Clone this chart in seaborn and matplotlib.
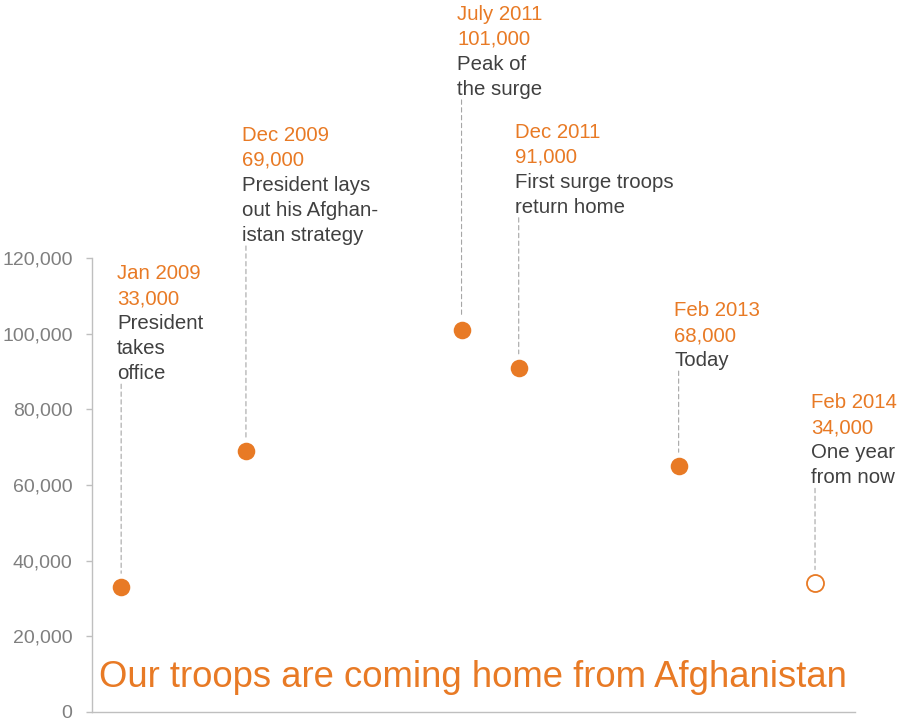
import matplotlib
matplotlib.use("Agg")
import matplotlib.pyplot as plt
import matplotlib.ticker as mticker
import pandas as pd
import seaborn as sns

# data
dates = ['2009-01-15', '2009-12-15', '2011-07-15', '2011-12-15', '2013-02-15', '2014-02-15']
date_labels = ['Jan 2009', 'Dec 2009', 'July 2011', 'Dec 2011', 'Feb 2013', 'Feb 2014']
troops = [33000, 69000, 101000, 91000, 65000, 34000]
troop_labels = ['33,000', '69,000', '101,000', '91,000', '68,000', '34,000']
events = [['President', 'takes', 'office'],
          ['President lays', 'out his Afghan-', 'istan strategy'],
          ['Peak of', 'the surge'],
          ['First surge troops', 'return home'],
          ['Today'],
          ['One year', 'from now']]
projected = [False, False, False, False, False, True]
yticks = [0, 20000, 40000, 60000, 80000, 100000, 120000]
title = 'Our troops are coming home from Afghanistan'

# layout: height of each label's last baseline above its dot, in pixels
label_lift_px = [208, 210, 235, 155, 100, 100]

ORANGE = '#E87A25'
DARK = '#404040'
GREY = '#7f7f7f'
AXIS = '#bfbfbf'
px = 0.72  # points per pixel at dpi 100

sns.set_style('white')
plt.rcParams['font.family'] = ['Liberation Sans', 'DejaVu Sans']

df = pd.DataFrame({'date': pd.to_datetime(dates), 'troops': troops, 'projected': projected})

fig = plt.figure(figsize=(9, 7.24), dpi=100)
ax = fig.add_axes([92 / 900, 12 / 724, (855 - 92) / 900, 712 / 724])

actual = df[~df['projected']]
future = df[df['projected']]
sns.scatterplot(data=actual, x='date', y='troops', ax=ax, color=ORANGE, s=160,
                linewidth=0, zorder=3)
ax.scatter(future['date'], future['troops'], s=150, facecolors='white',
           edgecolors=ORANGE, linewidths=1.3, zorder=3)

for i, row in df.iterrows():
    lift = label_lift_px[i] * px
    lines = [date_labels[i], troop_labels[i]] + events[i]
    n = len(lines)
    for j, line in enumerate(lines):
        color = ORANGE if j < 2 else DARK
        ax.annotate(line, xy=(row['date'], row['troops']),
                    xytext=(-3, lift + (n - 1 - j) * 18), textcoords='offset points',
                    ha='left', va='baseline', fontsize=14.7, color=color,
                    annotation_clip=False)
    ax.annotate('', xy=(row['date'], row['troops']),
                xytext=(0, lift - 5 * px), textcoords='offset points',
                arrowprops=dict(arrowstyle='-', color='#a6a6a6', lw=0.8,
                                linestyle=(0, (4, 3)), shrinkA=0, shrinkB=10))

ax.set_xlim(pd.Timestamp('2008-10-29'), pd.Timestamp('2014-06-02'))
ax.set_ylim(0, 188200)
ax.set_xticks([])
ax.set_yticks(yticks)
ax.yaxis.set_major_formatter(mticker.FuncFormatter(lambda v, p: f'{v:,.0f}'))
ax.tick_params(axis='y', length=4, width=1, color=AXIS, labelcolor=GREY,
               labelsize=14, pad=10, left=True)
ax.set_xlabel('')
ax.set_ylabel('')

for side in ['top', 'right']:
    ax.spines[side].set_visible(False)
for side in ['left', 'bottom']:
    ax.spines[side].set_color(AXIS)
    ax.spines[side].set_linewidth(1)
ax.spines['left'].set_bounds(0, 120000)

fig.text(99 / 900, 37 / 724, title, fontsize=26.3, color=ORANGE, ha='left', va='baseline')

fig.savefig('out.png', dpi=100)
